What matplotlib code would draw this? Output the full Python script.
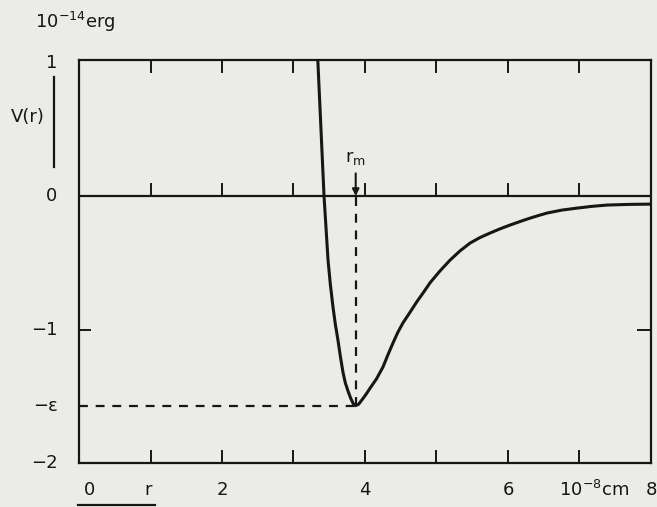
import numpy as np
import matplotlib
matplotlib.use("Agg")
import matplotlib.pyplot as plt

# ---- values (r in 1e-8 cm, V in 1e-14 erg) ----
r_vals = [3.34, 3.427, 3.455, 3.483, 3.515, 3.552, 3.585, 3.622, 3.655,
          3.692, 3.725, 3.762, 3.80, 3.835, 3.87, 3.91, 3.96, 4.015, 4.07,
          4.16, 4.252, 4.32, 4.392, 4.46, 4.531, 4.63, 4.727, 4.82, 4.909,
          5.05, 5.189, 5.33, 5.469, 5.61, 5.748, 5.89, 6.028, 6.17, 6.308,
          6.43, 6.545, 6.75, 6.965, 7.17, 7.385, 7.7, 8.0]
v_vals = [1.02, 0.0, -0.24, -0.48, -0.66, -0.83, -0.96, -1.08, -1.20,
          -1.32, -1.40, -1.46, -1.515, -1.555, -1.57, -1.56, -1.525, -1.485, -1.44,
          -1.37, -1.28, -1.19, -1.10, -1.02, -0.95, -0.87, -0.79, -0.72, -0.65,
          -0.56, -0.48, -0.41, -0.352, -0.31, -0.277, -0.245, -0.217, -0.19, -0.165,
          -0.145, -0.127, -0.105, -0.090, -0.077, -0.067, -0.062, -0.060]
r_min = 3.87
eps = 1.57
x_ticks = [1, 2, 3, 4, 5, 6, 7]
x_labels = ["0", "2", "4", "6", "8"]
x_label_pos = [0.15, 2, 4, 6, 8]
y_labels = ["1", "0", "\u22121", "\u2212\u03b5", "\u22122"]
y_label_pos = [1.0, 0.0, -1.0, -eps, -2.0]

INK = "#161616"
PAPER = "#ebebe7"

plt.rcParams.update({"font.family": "DejaVu Sans", "font.size": 13})

fig = plt.figure(figsize=(6.57, 5.07), dpi=100, facecolor=PAPER)
ax = fig.add_axes([79 / 657, 44 / 507, 572 / 657, 403 / 507])
ax.set_facecolor(PAPER)
ax.set_xlim(0, 8)
ax.set_ylim(-2, 1.02)
for s in ax.spines.values():
    s.set_color(INK)
    s.set_linewidth(1.6)
ax.set_xticks([]); ax.set_yticks([])

# zero line
ax.axhline(0, color=INK, lw=1.6)

# short tick marks: top edge (down), zero line (up), bottom edge (up)
tl = 0.09
for t in x_ticks:
    ax.plot([t, t], [1.02, 1.02 - tl], color=INK, lw=1.4)
    ax.plot([t, t], [0, tl], color=INK, lw=1.4)
    ax.plot([t, t], [-2, -2 + tl], color=INK, lw=1.4)
ax.plot([0, 0.15], [-1, -1], color=INK, lw=1.4)
ax.plot([8, 7.82], [-1, -1], color=INK, lw=1.4)

# potential curve
ax.plot(r_vals, v_vals, color=INK, lw=2.2, solid_capstyle="round",
        solid_joinstyle="round")

# dashed guides to the minimum
ax.plot([0, r_min], [-eps, -eps], color=INK, lw=1.6, ls=(0, (4, 3.5)))
ax.plot([r_min, r_min], [-eps, 0], color=INK, lw=1.6, ls=(0, (4, 3.5)))

# r_m arrow and label
ax.annotate("", xy=(r_min, 0.0), xytext=(r_min, 0.17),
            arrowprops=dict(arrowstyle="-|>", color=INK, lw=1.5,
                            mutation_scale=10, shrinkA=0, shrinkB=0))
ax.text(r_min, 0.22, "r$_\\mathrm{m}$", ha="center", va="bottom",
        color=INK, fontsize=13)

# tick labels as plain text
for lab, pos in zip(y_labels, y_label_pos):
    ax.text(-0.3, pos, lab, ha="right", va="center", color=INK, clip_on=False)
for lab, pos in zip(x_labels, x_label_pos):
    ax.text(pos, -2.2, lab, ha="center", va="center", color=INK, clip_on=False)
ax.text(0.97, -2.2, "r", ha="center", va="center", color=INK, clip_on=False)
ax.text(7.2, -2.2, "10$^{-8}$cm", ha="center", va="center", color=INK,
        clip_on=False)

# axis captions
fig.text(35 / 657, 1 - 22 / 507, "10$^{-14}$erg", ha="left", va="center",
         color=INK)
fig.text(28 / 657, 1 - 117 / 507, "V(r)", ha="center", va="center", color=INK)
fig.add_artist(plt.Line2D([54 / 657, 54 / 657], [1 - 77 / 507, 1 - 167 / 507],
                          color=INK, lw=1.6))
fig.add_artist(plt.Line2D([78 / 657, 155 / 657], [1 - 505 / 507, 1 - 505 / 507],
                          color=INK, lw=1.6))

fig.savefig("out.png", dpi=100, facecolor=PAPER)
